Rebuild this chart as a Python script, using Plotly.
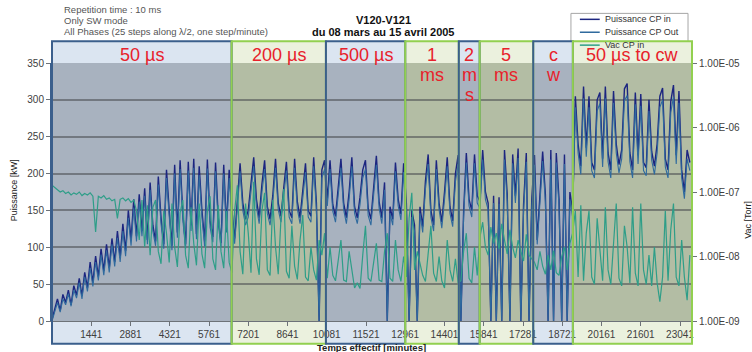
import plotly.graph_objects as go

# ---------------------------------------------------------------------------
# Data: V120-V121 conditioning run, 08 March - 15 April 2005
# effective operating time, one sample every 100 minutes
minutes = list(range(1, 23402, 100))

# forward power measured at the coupler input [kW]
cp_in_kw = [
    # 50 us
    2, 18, 30, 14, 36, 25, 42, 22, 48, 35,
    58, 34, 66, 45, 80, 52, 88, 60, 98, 68,
    104, 72, 112, 80, 122, 86, 132, 95, 150, 110,
    165, 115, 172, 122, 180, 110, 188, 130, 108, 196,
    140, 104, 205, 150, 102, 212, 120, 218, 145, 104,
    216, 130, 220, 118, 210, 150, 108, 219, 135, 114,
    215, 140, 106, 212, 128, 205,
    # 200 us
    150, 112, 170, 214, 160, 138, 150, 190, 222, 165,
    140, 185, 218, 155, 138, 170, 220, 160, 142, 180,
    216, 150, 140, 220, 162, 140, 175, 214, 150, 142,
    222, 160, 0, 205, 218,
    # 500 us
    165, 218, 158, 142, 178, 220, 160, 140, 175, 222,
    155, 140, 168, 205, 218, 152, 138, 180, 224, 162,
    140, 188, 0, 155, 138, 215, 165, 145, 214,
    # 1 ms
    160, 0, 150, 130, 0, 155, 128, 190, 226, 150,
    130, 218, 160, 134, 175, 222, 155, 136, 200, 225,
    # 2 ms
    0, 148, 228, 165, 150, 226, 170,
    # 5 ms
    162, 232, 175, 160, 0, 170, 0, 168, 0, 232,
    172, 0, 226, 170, 234, 0, 158, 228, 0, 164,
    # cw
    225, 110, 168, 230, 172, 0, 232, 0, 228, 165,
    0, 226, 0, 175, 150,
    # 50 us to cw
    305, 240, 210, 318, 235, 305, 215, 205, 300, 310,
    220, 318, 228, 205, 312, 240, 212, 232, 315, 322,
    228, 205, 310, 225, 308, 215, 208, 300, 230, 210,
    240, 305, 316, 220, 205, 298, 320, 225, 312, 205,
    175, 232, 215,
]

# power measured at the coupler output [kW]
cp_out_kw = [
    0, 14, 25, 12, 30, 22, 37, 20, 42, 31,
    52, 30, 60, 40, 72, 47, 80, 55, 90, 62,
    96, 66, 104, 74, 113, 80, 122, 88, 140, 102,
    154, 108, 162, 115, 170, 104, 178, 122, 102, 185,
    132, 98, 194, 142, 96, 200, 113, 206, 137, 98,
    204, 122, 208, 111, 198, 141, 101, 207, 127, 107,
    203, 132, 100, 200, 120, 194,
    140, 105, 160, 203, 150, 130, 141, 179, 210, 155,
    132, 174, 206, 146, 130, 160, 208, 151, 134, 170,
    204, 141, 132, 208, 152, 132, 165, 202, 141, 134,
    210, 151, 0, 194, 206,
    156, 206, 149, 134, 168, 208, 151, 132, 165, 210,
    146, 132, 158, 194, 206, 143, 130, 170, 212, 153,
    132, 178, 0, 146, 130, 203, 156, 137, 202,
    151, 0, 141, 122, 0, 146, 120, 179, 213, 141,
    122, 206, 151, 126, 165, 210, 146, 128, 189, 213,
    0, 140, 215, 156, 141, 214, 160,
    153, 219, 165, 151, 0, 160, 0, 159, 0, 219,
    162, 0, 214, 160, 221, 0, 149, 216, 0, 155,
    212, 104, 158, 217, 162, 0, 219, 0, 215, 156,
    0, 213, 0, 165, 141,
    290, 228, 199, 302, 223, 290, 204, 194, 285, 295,
    209, 302, 216, 194, 296, 228, 201, 220, 299, 306,
    216, 194, 294, 213, 292, 204, 197, 285, 218, 199,
    228, 290, 300, 209, 194, 283, 304, 213, 296, 194,
    166, 220, 204,
]

# vacuum gauge at the coupler input [Torr]
vac_cp_in_torr = [
    1.27e-7, 1.17e-7, 1.05e-7, 1.0e-7,
    1.05e-7, 9.5e-8, 1.0e-7, 9.0e-8, 9.7e-8, 9.2e-8, 1.0e-7, 8.8e-8, 9.5e-8, 9.0e-8, 9.7e-8, 8.6e-8,
    2.4e-8,
    8.6e-8, 8.1e-8, 8.8e-8, 7.7e-8, 8.1e-8, 7.3e-8, 7.7e-8, 3.9e-8, 7.7e-8,
    8.1e-8, 7.3e-8, 7.9e-8, 6.9e-8, 7.5e-8,
    5.1e-8, 1.8e-8, 7.5e-8, 1.4e-8, 6.2e-8,
    1.05e-8, 5.8e-8, 7.5e-8, 1.2e-8, 7.7e-9, 5.1e-8, 2.3e-8, 8.1e-9, 6.6e-8, 1.4e-8,
    6.9e-9, 4.8e-8, 7.5e-8, 1.05e-8, 6.6e-9, 5.8e-8, 1.6e-8, 7.3e-9, 6.6e-8, 1.1e-8,
    6.6e-9, 5.1e-8, 8.6e-8, 9.2e-9, 6.2e-9, 6.2e-8, 1.2e-8, 6.6e-9, 5.1e-8, 8.1e-9,
    5.6e-9, 5.1e-8, 1.27e-7, 1.2e-8, 5.3e-9, 6.6e-8, 2.3e-8, 5.6e-9, 1.44e-7, 9.2e-9,
    5.2e-9, 5.1e-8, 9.7e-8, 6.2e-9, 5.1e-9, 7.5e-8, 1.4e-8, 5.3e-9, 3.9e-8, 1.11e-7,
    5.9e-9, 4.6e-9, 3.0e-8, 7.1e-9, 4.4e-9, 1.8e-8, 4.4e-8, 4.8e-9, 4.2e-9, 1.4e-8,
    6.2e-9, 4.3e-9, 1.8e-8, 1.05e-8, 2.3e-8,
    4.6e-9, 1.4e-8, 5.1e-9, 4.2e-9, 9.2e-9, 1.8e-8, 4.3e-9, 4.1e-9, 1.2e-8, 6.2e-9,
    3.25e-9, 3.9e-9, 3.2e-9, 1.05e-8, 3.0e-8, 4.6e-9, 4.1e-9, 8.1e-9, 1.6e-8, 4.3e-9,
    4.1e-9, 1.2e-8, 2.3e-8, 4.6e-9, 4.1e-9, 1.8e-8, 6.2e-9, 4.1e-9, 1.0e-8,
    4.8e-9, 3.9e-8, 9.7e-8, 6.2e-9, 1.2e-8, 8.1e-9, 5.1e-9, 4.1e-9, 1.05e-8, 3.0e-8,
    5.5e-9, 4.1e-9, 1.0e-8, 4.2e-9, 3.25e-9, 1.8e-8, 6.2e-9, 4.1e-9, 9.2e-9, 3.9e-9,
    4.2e-9, 1.2e-8, 2.3e-8, 4.6e-9, 3.9e-9, 1.4e-8, 5.1e-9,
    2.0e-8, 3.4e-8, 1.4e-8, 1.05e-8, 2.85e-8, 1.6e-8, 2.3e-8, 1.3e-8, 3.2e-8, 1.8e-8,
    1.1e-8, 2.6e-8, 1.4e-8, 9.5e-9, 1.8e-8, 1.2e-8, 8.5e-9, 2.2e-8, 1.05e-8, 9.2e-9,
    8.1e-9, 6.2e-9, 1.2e-8, 7.1e-9, 5.3e-9, 1.05e-8, 6.2e-9, 1.23e-8, 5.6e-9, 5.1e-9,
    1.0e-8, 1.4e-8, 6.2e-9, 1.6e-8, 2.3e-8,
    5.1e-8, 4.8e-9, 6.2e-8, 4.2e-9, 2.3e-8, 5.1e-8, 4.8e-9, 3.7e-9, 3.9e-8, 1.2e-8,
    4.2e-9, 5.8e-8, 6.2e-9, 3.7e-9, 1.8e-8, 6.6e-8, 4.6e-9, 3.5e-9, 3.0e-8, 1.4e-8,
    3.9e-9, 5.8e-8, 5.5e-9, 3.5e-9, 6.6e-8, 6.2e-9, 3.7e-9, 1.05e-8, 3.5e-9, 1.4e-8,
    3.9e-9, 2.0e-9, 4.8e-9, 5.1e-8, 4.2e-9, 2.6e-8, 6.6e-8, 4.8e-9, 3.5e-9, 1.8e-8,
    4.8e-9, 2.1e-9, 1.05e-8,
]

assert len(minutes) == len(cp_in_kw) == len(cp_out_kw) == len(vac_cp_in_torr)

x_tick_vals = [1441, 2881, 4321, 5761, 7201, 8641, 10081, 11521,
               12961, 14401, 15841, 17281, 18721, 20161, 21601, 23041]
x_tick_text = [str(v) for v in x_tick_vals]
y_tick_vals = [0, 50, 100, 150, 200, 250, 300, 350]
vac_tick_vals = [1e-9, 1e-8, 1e-7, 1e-6, 1e-5]
vac_tick_text = ["1.00E-09", "1.00E-08", "1.00E-07", "1.00E-06", "1.00E-05"]

# pulse-length phases of the conditioning (boundaries in minutes)
phase_edges = [1, 6590, 10050, 12960, 14925, 15690, 17655, 19110, 23480]
phase_labels = [["50 µs"], ["200 µs"], ["500 µs"], ["1", "ms"], ["2", "m", "s"],
                ["5", "ms"], ["c", "w"], ["50 µs to cw"]]
phase_kind = ["blue", "green", "blue", "green", "blue", "green", "blue", "green"]

legend_names = ["Puissance CP in", "Puissance CP Out", "Vac CP in"]

# ---------------------------------------------------------------------------
# Styling
W, H = 752, 352
PLOT_L, PLOT_R, PLOT_T, PLOT_B = 52, 697, 63, 323
X_RANGE = [1, 23480]
FONT = "Liberation Sans, Arial, sans-serif"

C_IN = "#1c2580"
C_OUT = "#2f6a9e"
C_VAC = "#2e9e88"
RED = "#e8212b"
BOX_STYLE = {
    "blue": dict(border="#3b5f8c", head="#dbe5f1", plot="#a8b2bf"),
    "green": dict(border="#92d050", head="#ebf1de", plot="#b3bda4"),
}


def px(x):
    return (x - PLOT_L) / (PLOT_R - PLOT_L)


def py(y):
    return (PLOT_B - y) / (PLOT_B - PLOT_T)


def xp(m):
    return (m - X_RANGE[0]) / (X_RANGE[1] - X_RANGE[0])


def label(x, y, text, size, color, xanchor="center", angle=0, bold=False):
    return dict(x=x, y=y, xref="paper", yref="paper",
                text=f"<b>{text}</b>" if bold else text,
                showarrow=False, xanchor=xanchor, yanchor="middle",
                textangle=angle, font=dict(family=FONT, size=size, color=color))


fig = go.Figure()
fig.add_trace(go.Scatter(x=minutes, y=cp_in_kw, mode="lines", name=legend_names[0],
                         line=dict(color=C_IN, width=1.4), showlegend=False))
fig.add_trace(go.Scatter(x=minutes, y=cp_out_kw, mode="lines", name=legend_names[1],
                         line=dict(color=C_OUT, width=1.1), showlegend=False))
fig.add_trace(go.Scatter(x=minutes, y=vac_cp_in_torr, mode="lines", name=legend_names[2],
                         yaxis="y2", line=dict(color=C_VAC, width=1.2), showlegend=False))

shapes = []
annotations = []

# legend frame (partly hidden behind the last phase header)
shapes.append(dict(type="rect", xref="paper", yref="paper", x0=px(575), x1=px(693),
                   y0=py(52), y1=py(13), fillcolor="white",
                   line=dict(color="#a6a6a6", width=1), layer="below"))

box_top, box_bot = py(41), py(346)
for i, kind in enumerate(phase_kind):
    st = BOX_STYLE[kind]
    x0, x1 = xp(phase_edges[i]), xp(phase_edges[i + 1])
    for y0, y1, col in [(1.0, box_top, st["head"]), (0.0, 1.0, st["plot"]),
                        (box_bot, 0.0, st["head"])]:
        shapes.append(dict(type="rect", xref="paper", yref="paper", x0=x0, x1=x1,
                           y0=y0, y1=y1, fillcolor=col, line=dict(width=0),
                           layer="below"))
for i, kind in enumerate(phase_kind):
    st = BOX_STYLE[kind]
    x0, x1 = xp(phase_edges[i]), xp(phase_edges[i + 1])
    shapes.append(dict(type="rect", xref="paper", yref="paper", x0=x0, x1=x1,
                       y0=box_bot, y1=box_top, fillcolor="rgba(0,0,0,0)",
                       line=dict(color=st["border"], width=2), layer="above"))
    xc = (x0 + x1) / 2
    for j, txt in enumerate(phase_labels[i]):
        annotations.append(label(xc, py(55 + 20 * j), txt, 18, RED))

# legend entries
for j, (name, col) in enumerate(zip(legend_names, [C_IN, C_OUT, C_VAC])):
    yy = py(19 + 13 * j)
    shapes.append(dict(type="line", xref="paper", yref="paper", x0=px(584), x1=px(604),
                       y0=yy, y1=yy, line=dict(color=col, width=1.5), layer="above"))
    annotations.append(label(px(607), yy, name, 9, "#333333", xanchor="left"))

# header texts
for j, txt in enumerate(["Repetition time : 10 ms", "Only SW mode",
                         "All Phases (25 steps along λ/2, one step/minute)"]):
    annotations.append(label(px(62), py(9 + 11 * j), txt, 9.5, "#555555", xanchor="left"))
annotations.append(label(px(386), py(20), "V120-V121", 11, "#111111", bold=True))
annotations.append(label(px(386), py(32), "du 08 mars au 15 avril 2005", 11, "#111111",
                         bold=True))

# axis titles
annotations.append(label(px(14), py(191), "Puissance [kW]", 9, "#222222", angle=-90))
annotations.append(label(px(374), py(350), "Temps effectif [minutes]", 9.5, "#222222",
                         bold=True))
# secondary-axis title sits against the right border of the page
annotations.append(label(1.0, py(221), "Vac [Torr]", 9, "#222222", angle=-90,
                         xanchor="left") | dict(xshift=49))

fig.update_layout(
    width=W, height=H, autosize=False,
    margin=dict(l=PLOT_L, r=W - PLOT_R, t=PLOT_T, b=H - PLOT_B, pad=0),
    paper_bgcolor="white", plot_bgcolor="rgba(0,0,0,0)",
    font=dict(family=FONT, size=10, color="#404040"),
    showlegend=False,
    shapes=shapes, annotations=annotations,
    xaxis=dict(range=X_RANGE, tickmode="array", tickvals=x_tick_vals,
               ticktext=x_tick_text, showgrid=False, zeroline=False,
               showline=True, linecolor="#6d7278", linewidth=1,
               ticks="outside", ticklen=4, tickcolor="#6d7278",
               tickfont=dict(size=10, color="#404040")),
    yaxis=dict(range=[0, 350], tickmode="array", tickvals=y_tick_vals,
               showgrid=True, gridcolor="rgba(70,72,76,0.55)", gridwidth=1.5,
               zeroline=False, showline=True, linecolor="#3b5f8c", linewidth=2,
               ticks="outside", ticklen=4, tickcolor="#6d7278",
               tickfont=dict(size=10, color="#404040")),
    yaxis2=dict(type="log", range=[-9, -5], overlaying="y", side="right",
                tickmode="array", tickvals=vac_tick_vals, ticktext=vac_tick_text,
                showgrid=False, zeroline=False, showline=False,
                ticks="outside", ticklen=4, tickcolor="#6d7278",
                tickfont=dict(size=10, color="#404040")),
)

fig.write_html("out.html")
